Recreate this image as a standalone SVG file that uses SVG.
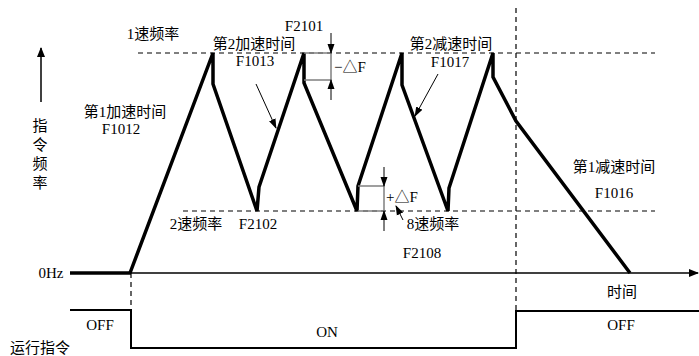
<svg xmlns="http://www.w3.org/2000/svg" width="699" height="356" viewBox="0 0 699 356">
<defs>
<style>
text{font-family:"Liberation Serif","Noto Sans CJK SC",serif;font-size:15px;fill:#000}
.c{text-anchor:middle}
.dash{stroke:#000;stroke-width:1.2;stroke-dasharray:5 4;fill:none}
.thick{stroke:#000;stroke-width:3.5;fill:none;stroke-linejoin:miter}
.thin{stroke:#000;stroke-width:1.5;fill:none}
.gray{stroke:#808080;stroke-width:1.5;fill:none}
.ptr{stroke:#000;stroke-width:1;fill:none}
</style>
<marker id="ah" markerWidth="10" markerHeight="10" refX="9" refY="5" orient="auto" markerUnits="userSpaceOnUse">
<path d="M0,1 L10,5 L0,9 Z" fill="#000"/>
</marker>
<marker id="ahs" markerWidth="10" markerHeight="8" refX="9" refY="4" orient="auto" markerUnits="userSpaceOnUse">
<path d="M0,0.5 L10,4 L0,7.5 Z" fill="#000"/>
</marker>
</defs>
<g id="connectors">
<!-- guide dashed lines -->
<line class="dash" x1="138" y1="53" x2="655" y2="53"/>
<line class="dash" x1="183" y1="211" x2="655" y2="211"/>
<line class="dash" x1="516" y1="8" x2="516" y2="310"/>
<line class="dash" x1="131" y1="273" x2="131" y2="310"/>
<!-- vertical axis arrow -->
<line class="thin" x1="41" y1="102" x2="41" y2="48" marker-end="url(#ah)"/>
<!-- time axis -->
<line x1="70" y1="273" x2="131" y2="273" stroke="#000" stroke-width="3.5"/>
<line class="thin" x1="131" y1="273" x2="698" y2="273" marker-end="url(#ah)"/>
<!-- frequency curve -->
<polyline class="thick" points="130,273 213,53 213,84 257,211 259,187 304,53 304,83 357,211 358,186 402,53 402,85 448,211 449,188 493,53 493,77 516,121 630,273"/>
<!-- delta boxes -->
<polyline class="gray" points="304,53 331,53 331,80 304,80"/>
<polyline class="gray" points="358,186 384,186 384,211 358,211"/>
<line class="ptr" x1="331" y1="33" x2="331" y2="53" marker-end="url(#ahs)"/>
<line class="ptr" x1="331" y1="100" x2="331" y2="80" marker-end="url(#ahs)"/>
<line class="ptr" x1="384" y1="167" x2="384" y2="186" marker-end="url(#ahs)"/>
<line class="ptr" x1="384" y1="231" x2="384" y2="211" marker-end="url(#ahs)"/>
<!-- label pointers -->
<line class="ptr" x1="256" y1="84" x2="276" y2="128" marker-end="url(#ahs)"/>
<line class="ptr" x1="438" y1="74" x2="415" y2="116" marker-end="url(#ahs)"/>
<line class="ptr" x1="403" y1="220" x2="396" y2="206" marker-end="url(#ahs)"/>
<!-- run command -->
<polyline fill="none" stroke="#000" stroke-width="2" points="70,310 131,310 131,348 516,348 516,311 699,311"/>
</g>
<g id="labels">
<text x="40" y="131" class="c">指</text>
<text x="40" y="150" class="c">令</text>
<text x="40" y="169" class="c">频</text>
<text x="40" y="188" class="c">率</text>
<text x="153" y="39" class="c">1速频率</text>
<text x="254" y="49" class="c">第2加速时间</text>
<text x="255" y="66" class="c">F1013</text>
<text x="304" y="31" class="c">F2101</text>
<text x="125" y="117" class="c">第1加速时间</text>
<text x="121" y="134" class="c">F1012</text>
<text x="451" y="49" class="c">第2减速时间</text>
<text x="450" y="67" class="c">F1017</text>
<text x="614" y="172" class="c">第1减速时间</text>
<text x="614" y="198" class="c">F1016</text>
<text x="196" y="229" class="c">2速频率</text>
<text x="258" y="229" class="c">F2102</text>
<text x="433" y="229" class="c">8速频率</text>
<text x="422" y="258" class="c">F2108</text>
<text x="350" y="72" class="c">−△F</text>
<text x="402" y="202" class="c">+△F</text>
<text x="51" y="278" class="c">0Hz</text>
<text x="622" y="297" class="c">时间</text>
<text x="100" y="330" class="c">OFF</text>
<text x="327" y="337" class="c">ON</text>
<text x="621" y="330" class="c">OFF</text>
<text x="40" y="353" class="c">运行指令</text>
</g>
</svg>
